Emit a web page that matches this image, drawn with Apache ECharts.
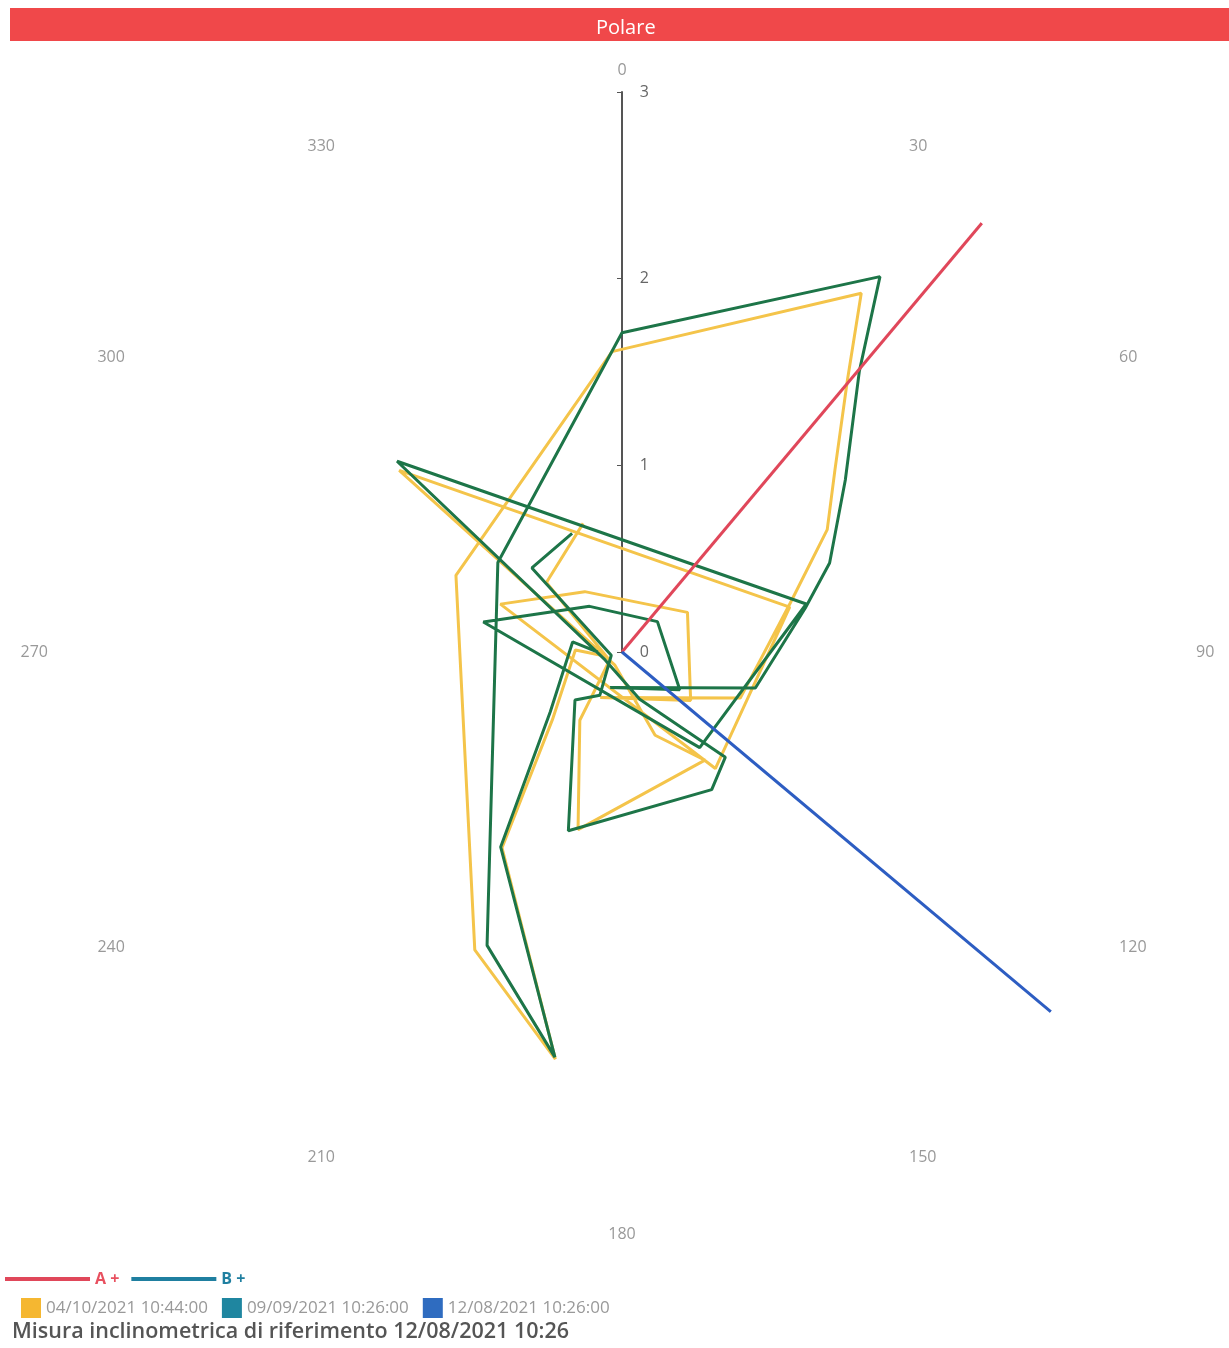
<!DOCTYPE html>
<html>
<head>
<meta charset="utf-8">
<script src="https://cdn.jsdelivr.net/npm/echarts@6/dist/echarts.min.js"></script>
<style>
html,body{margin:0;padding:0;background:#fff;}
#chart{width:1229px;height:1348px;}
</style>
</head>
<body>
<div id="chart"></div>
<script>
// ---- data: [radius, angle(deg)] ----
var angleTicks = [0, 30, 60, 90, 120, 150, 180, 210, 240, 270, 300, 330];
var radiusTicks = [0, 1, 2, 3];

var lineA = [[0, 40], [3, 40]];
var lineB = [[0, 130], [3, 130]];

var serie20211004 = [
  [0.72, 343.2], [0.55, 312.6], [0.08, 236.3], [0.31, 213.7], [0.43, 211.7], [0.98, 193.9],
  [0.73, 142.5], [0.48, 158.3], [0.08, 208.3], [1.54, 309.2], [0.93, 75.0], [0.80, 141.3],
  [0.70, 291.5], [0.38, 328.3], [0.41, 58.8], [0.45, 125.2], [0.27, 205.6], [0.68, 111.3],
  [0.94, 73.7], [1.28, 59.2], [1.50, 49.5], [1.89, 39.7], [2.31, 33.7], [1.61, 358.1],
  [0.98, 294.8], [1.78, 206.3], [2.21, 189.3], [1.23, 211.5], [0.52, 225.8], [0.25, 272.4],
  [0.12, 262.2]
];

var serie20210909 = [
  [0.69, 337.2], [0.66, 313.0], [0.06, 253.3], [0.26, 207.1], [0.36, 224.4], [1.00, 196.7],
  [0.88, 146.9], [0.79, 135.5], [0.27, 159.4], [0.10, 244.8], [1.58, 310.3], [1.02, 75.4],
  [0.66, 140.9], [0.76, 282.2], [0.30, 324.6], [0.25, 49.4], [0.37, 123.2], [0.20, 198.4],
  [0.74, 105.1], [1.01, 76.5], [1.21, 66.8], [1.51, 52.4], [1.97, 40.2], [2.44, 34.5],
  [1.71, 0], [0.82, 305.8], [1.73, 204.7], [2.20, 189.4], [1.23, 211.9], [0.50, 230.2],
  [0.27, 281.5], [0.13, 270.0]
];

var serie20210812 = [[0, 0], [0, 0]];

var legendDates = ['04/10/2021 10:44:00', '09/09/2021 10:26:00', '12/08/2021 10:26:00'];
var legendAxes = ['A +', 'B +'];
var titleText = 'Polare';
var footText = 'Misura inclinometrica di riferimento 12/08/2021 10:26';

var chart = echarts.init(document.getElementById('chart'));
chart.setOption({
  animation: false,
  backgroundColor: '#ffffff',
  graphic: [
    { type: 'rect', left: 10, top: 8, shape: { width: 1219, height: 33 }, style: { fill: '#f0484a' }, z: -1 },
    { type: 'text', left: 12, top: 1321, style: { text: footText, fill: '#555', font: '600 21.5px "Open Sans", sans-serif' } }
  ],
  title: {
    text: titleText, left: 591, top: 13,
    textStyle: { color: '#ffffff', fontSize: 20, fontWeight: 'normal', fontFamily: '"Open Sans", sans-serif' }
  },
  legend: [
    {
      data: [
        { name: legendAxes[0], textStyle: { color: '#e8505f' } },
        { name: legendAxes[1], textStyle: { color: '#1f7fa0' } }
      ],
      left: 0, top: 1266, icon: 'rect', itemWidth: 85, itemHeight: 4, itemGap: 12,
      textStyle: { fontSize: 16, fontWeight: 'bold', fontFamily: '"Open Sans", sans-serif' }
    },
    {
      data: legendDates,
      left: 16, top: 1293, icon: 'rect', itemWidth: 20, itemHeight: 20, itemGap: 14,
      textStyle: { fontSize: 17, color: '#999', fontFamily: '"Open Sans", sans-serif' }
    }
  ],
  polar: { center: [622, 652], radius: 560 },
  angleAxis: {
    type: 'value', min: 0, max: 360, interval: 30, startAngle: 90, clockwise: true,
    axisLine: { show: false }, axisTick: { show: false }, splitLine: { show: false },
    axisLabel: { color: '#999', fontSize: 16, margin: 14, fontFamily: '"Open Sans", sans-serif',
      formatter: function (v) { return v === 360 ? '' : String(v); } }
  },
  radiusAxis: {
    type: 'value', min: 0, max: 3, interval: 1,
    axisLine: { show: true, lineStyle: { color: '#555', width: 2 } },
    axisTick: { show: true, length: 5, lineStyle: { color: '#555' } },
    splitLine: { show: false },
    axisLabel: { color: '#666', fontSize: 16, margin: -27, fontFamily: '"Open Sans", sans-serif' }
  },
  series: [
    { name: legendDates[0], type: 'line', coordinateSystem: 'polar', data: serie20211004,
      showSymbol: false, symbol: 'none', z: 2,
      itemStyle: { color: '#f5b731' }, lineStyle: { color: '#f4c44a', width: 3 } },
    { name: legendDates[1], type: 'line', coordinateSystem: 'polar', data: serie20210909,
      showSymbol: false, symbol: 'none', z: 3,
      itemStyle: { color: '#1f86a0' }, lineStyle: { color: '#1d7548', width: 3 } },
    { name: legendDates[2], type: 'line', coordinateSystem: 'polar', data: serie20210812,
      showSymbol: false, symbol: 'none', z: 3,
      itemStyle: { color: '#2f6cc0' }, lineStyle: { color: '#2f6cc0', width: 3 } },
    { name: legendAxes[0], type: 'line', coordinateSystem: 'polar', data: lineA,
      showSymbol: false, symbol: 'none', z: 4,
      itemStyle: { color: '#e0475a' }, lineStyle: { color: '#e0475a', width: 3 } },
    { name: legendAxes[1], type: 'line', coordinateSystem: 'polar', data: lineB,
      showSymbol: false, symbol: 'none', z: 4,
      itemStyle: { color: '#1f7fa0' }, lineStyle: { color: '#2d5dc2', width: 3 } }
  ]
});
</script>
</body>
</html>
